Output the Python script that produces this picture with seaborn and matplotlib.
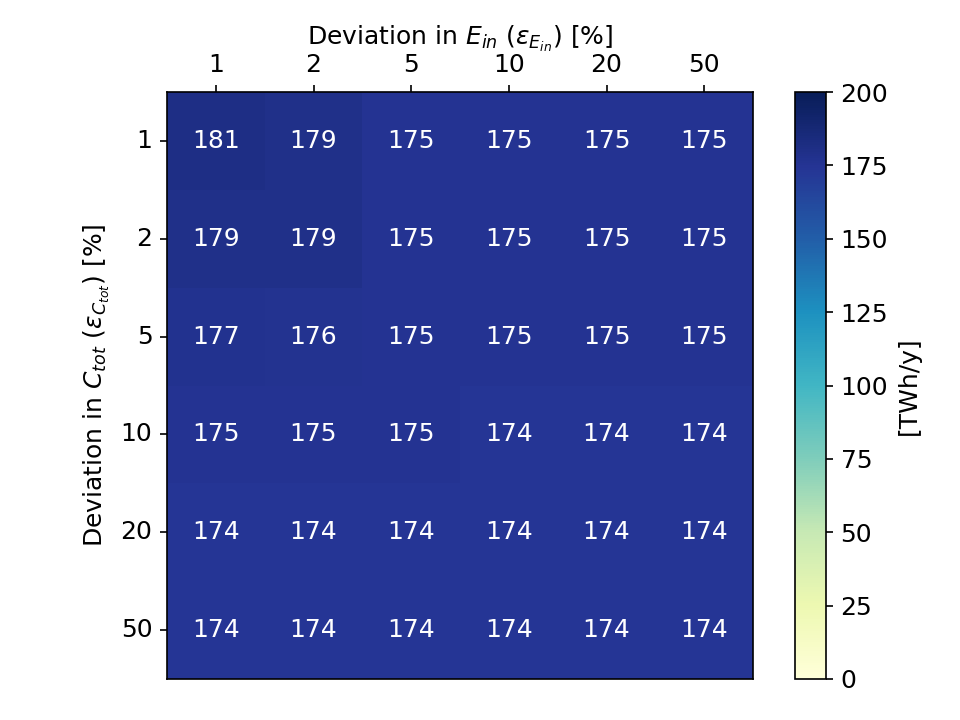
import numpy as np
import pandas as pd
import matplotlib
matplotlib.use("Agg")
import matplotlib.pyplot as plt
import seaborn as sns

# deviation levels [%]
e_in_levels = [1, 2, 5, 10, 20, 50]
c_tot_levels = [1, 2, 5, 10, 20, 50]

# energy values [TWh/y], one list per C_tot row
row_1 = [181, 179, 175, 175, 175, 175]
row_2 = [179, 179, 175, 175, 175, 175]
row_5 = [177, 176, 175, 175, 175, 175]
row_10 = [175, 175, 175, 174, 174, 174]
row_20 = [174, 174, 174, 174, 174, 174]
row_50 = [174, 174, 174, 174, 174, 174]

df = pd.DataFrame([row_1, row_2, row_5, row_10, row_20, row_50],
                  index=c_tot_levels, columns=e_in_levels)

fs = 12

fig = plt.figure(figsize=(6.4, 4.8), dpi=150)
ax = fig.add_axes([167/960, 41/720, 586/960, 587/720])
cax = fig.add_axes([795/960, 41/720, 31/960, 587/720])

sns.heatmap(df, ax=ax, cbar_ax=cax, cmap='YlGnBu', vmin=0, vmax=200,
            annot=True, fmt='.0f', annot_kws={'fontsize': fs, 'color': 'white'},
            cbar_kws={'label': '[TWh/y]'})

# put x axis on top like the original
ax.xaxis.tick_top()
ax.xaxis.set_label_position('top')
ax.set_xlabel(r'Deviation in $E_{in}$ ($\varepsilon_{E_{in}}$) [%]', fontsize=fs)
ax.set_ylabel(r'Deviation in $C_{tot}$ ($\varepsilon_{C_{tot}}$) [%]', fontsize=fs)
ax.tick_params(axis='both', length=3.5, width=0.8, labelsize=fs)
ax.tick_params(axis='y', rotation=0)
ax.tick_params(axis='x', rotation=0)

for s in ax.spines.values():
    s.set_visible(True)
    s.set_linewidth(0.8)
    s.set_color('black')

cb = ax.collections[0].colorbar
cb.outline.set_linewidth(0.8)
cb.outline.set_edgecolor('black')
cb.set_ticks([0, 25, 50, 75, 100, 125, 150, 175, 200])
cb.ax.tick_params(labelsize=fs, length=3.5, width=0.8)
cb.set_label('[TWh/y]', fontsize=fs)

fig.savefig('out.png', dpi=150)
